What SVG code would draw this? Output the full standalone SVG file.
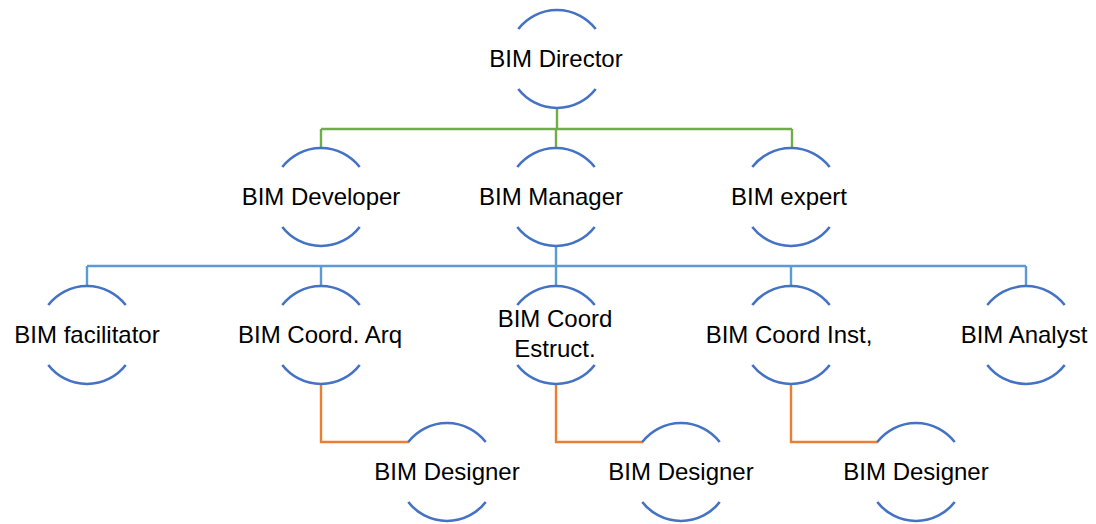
<svg xmlns="http://www.w3.org/2000/svg" xmlns:xlink="http://www.w3.org/1999/xlink" width="1096" height="524" viewBox="0 0 1096 524">
<style>
.arc{fill:none;stroke:#4472C4;stroke-width:2.6}
.lbl{font-family:"Liberation Sans",Arial,sans-serif;font-size:24px;fill:#000;text-anchor:middle}
.g{fill:none;stroke:#70AD47;stroke-width:2.4}
.b{fill:none;stroke:#5B9BD5;stroke-width:2.4}
.o{fill:none;stroke:#ED7D31;stroke-width:2.4}
</style>
<defs>
<g id="ring">
<path class="arc" d="M-38.7 -30 A49 49 0 0 1 38.7 -30"/>
<path class="arc" d="M-38.7 30 A49 49 0 0 0 38.7 30"/>
</g>
</defs>
<rect width="1096" height="524" fill="#fff"/>
<g id="connectors">
<path class="g" d="M557 108V129M321 129H792M321 129V148M556 129V148M792 129V148"/>
<path class="b" d="M556 246V266M87 266H1026M87 266V286M321 266V286M556 266V286M791 266V286M1026 266V286"/>
<path class="o" d="M321 384V442H409M556 384V442H643M791 384V442H878"/>
</g>
<g id="director"><use xlink:href="#ring" x="557" y="59"/><text class="lbl" x="556" y="67">BIM Director</text></g>
<g id="developer"><use xlink:href="#ring" x="321" y="197"/><text class="lbl" x="321" y="205">BIM Developer</text></g>
<g id="manager"><use xlink:href="#ring" x="556" y="197"/><text class="lbl" x="551" y="205">BIM Manager</text></g>
<g id="expert"><use xlink:href="#ring" x="791" y="197"/><text class="lbl" x="789" y="205">BIM expert</text></g>
<g id="facilitator"><use xlink:href="#ring" x="87" y="335"/><text class="lbl" x="87" y="343">BIM facilitator</text></g>
<g id="coordArq"><use xlink:href="#ring" x="321" y="335"/><text class="lbl" x="320" y="343">BIM Coord. Arq</text></g>
<g id="coordEstruct"><use xlink:href="#ring" x="556" y="335"/><text class="lbl" x="555" y="327">BIM Coord</text><text class="lbl" x="555" y="357">Estruct.</text></g>
<g id="coordInst"><use xlink:href="#ring" x="791" y="335"/><text class="lbl" x="789" y="343">BIM Coord Inst,</text></g>
<g id="analyst"><use xlink:href="#ring" x="1026" y="335"/><text class="lbl" x="1024" y="343">BIM Analyst</text></g>
<g id="designer1"><use xlink:href="#ring" x="447" y="472"/><text class="lbl" x="447" y="480">BIM Designer</text></g>
<g id="designer2"><use xlink:href="#ring" x="681" y="472"/><text class="lbl" x="681" y="480">BIM Designer</text></g>
<g id="designer3"><use xlink:href="#ring" x="916" y="472"/><text class="lbl" x="916" y="480">BIM Designer</text></g>
</svg>
